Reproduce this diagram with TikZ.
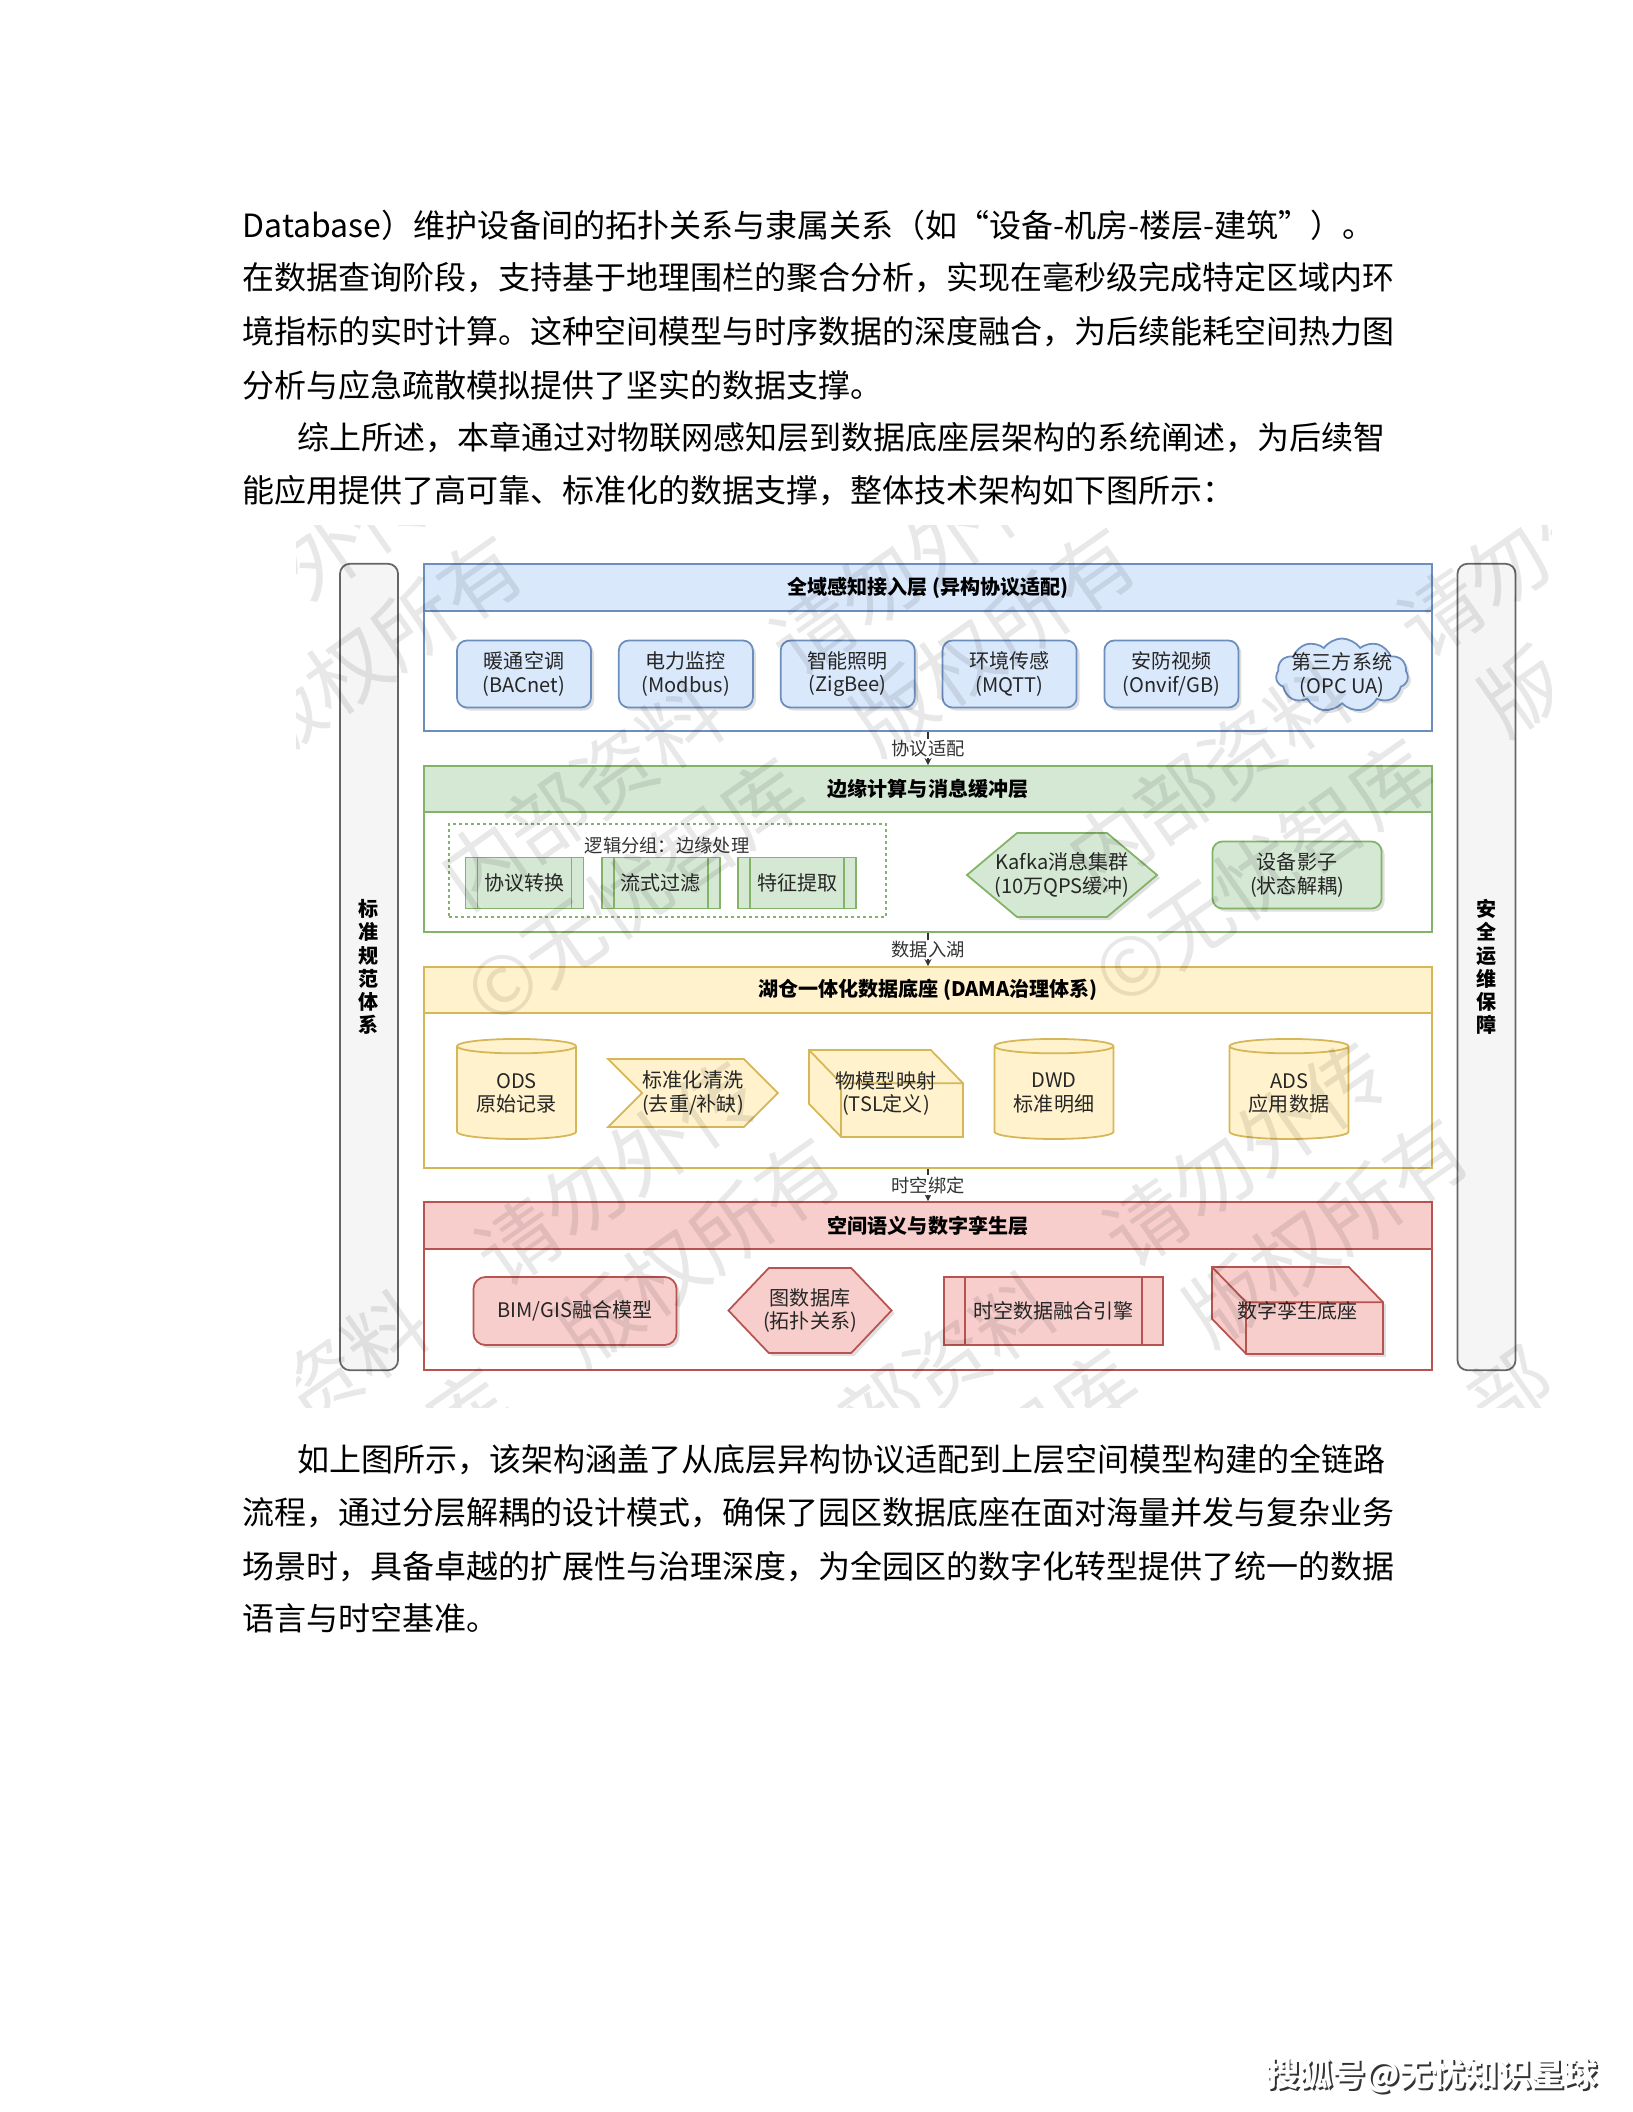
\documentclass[tikz,border=0pt]{standalone}
\usepackage{fontspec}
\setmainfont{Noto Sans CJK SC}
\definecolor{blfill}{HTML}{DAE8FC}
\definecolor{blline}{HTML}{6C8EBF}
\definecolor{grfill}{HTML}{D5E8D4}
\definecolor{grline}{HTML}{82B366}
\definecolor{ylfill}{HTML}{FFF2CC}
\definecolor{ylline}{HTML}{D6B656}
\definecolor{rdfill}{HTML}{F8CECC}
\definecolor{rdline}{HTML}{B85450}
\definecolor{sdfill}{HTML}{F5F5F5}
\definecolor{sdline}{HTML}{666666}
\usetikzlibrary{shapes.geometric, shapes.symbols, arrows.meta, positioning, shadows, backgrounds}

\begin{document}
\begin{tikzpicture}[x=0.01cm, y=-0.01cm,
    para/.style={anchor=west, inner sep=0pt, font=\fontsize{9.1pt}{12pt}\selectfont},
    layer/.style={rectangle, draw=#1, line width=0.5pt, minimum width=100.8mm, inner sep=0pt},
    hdr/.style={rectangle, draw=#1, line width=0.5pt, minimum width=100.8mm, anchor=north,
                inner sep=0pt, font=\fontsize{5.7pt}{6.4pt}\selectfont\bfseries},
    side/.style={rectangle, rounded corners=1mm, draw=sdline, fill=sdfill, line width=0.5pt,
                 minimum width=5.8mm, minimum height=80.6mm, align=center,
                 font=\fontsize{5.7pt}{6.6pt}\selectfont\bfseries},
    item/.style={align=center, inner sep=0pt, line width=0.5pt, text=black!85,
                 font=\fontsize{5.7pt}{6.6pt}\selectfont},
    shd/.style={drop shadow={shadow xshift=0.3mm, shadow yshift=-0.3mm, opacity=0.25}},
    dev/.style={item, shd, rectangle, rounded corners=1mm, fill=blfill, draw=blline,
                minimum width=13.4mm, minimum height=6.7mm},
    proc/.style n args={3}{item, rectangle, fill=#1, draw=#2,
                path picture={\draw[#2, line width=0.5pt]
                    ([xshift=#3]path picture bounding box.north west) -- ([xshift=#3]path picture bounding box.south west)
                    ([xshift=-#3]path picture bounding box.north east) -- ([xshift=-#3]path picture bounding box.south east);}},
    hexa/.style={item, shd, signal, signal to=east and west},
    cyl/.style={item, cylinder, shape border rotate=90, aspect=0.18, fill=ylfill, draw=ylline,
                minimum width=11.9mm, minimum height=10mm},
    grp/.style={rectangle, draw=grline, dash pattern=on 0.3mm off 0.3mm, line width=0.4pt},
    lbl/.style={fill=white, inner sep=0.4pt, text=black!80, font=\fontsize{5.2pt}{6pt}\selectfont},
    conn/.style={-{Stealth[length=0.7mm, width=0.7mm]}, line width=0.35pt, black!80},
    wmark/.style={anchor=west, rotate=35, inner sep=0pt, text=black, text opacity=0.09,
                  font=\fontsize{23pt}{23pt}\selectfont}
]
\useasboundingbox (0,0) rectangle (1632,2112);

\node[para] (p1) at (242,225) {Database）维护设备间的拓扑关系与隶属关系（如“设备-机房-楼层-建筑”）。};
\node[para] (p2) at (242,278) {在数据查询阶段，支持基于地理围栏的聚合分析，实现在毫秒级完成特定区域内环};
\node[para] (p3) at (242,331.5) {境指标的实时计算。这种空间模型与时序数据的深度融合，为后续能耗空间热力图};
\node[para] (p4) at (242,385) {分析与应急疏散模拟提供了坚实的数据支撑。};
\node[para] (p5) at (297,438) {综上所述，本章通过对物联网感知层到数据底座层架构的系统阐述，为后续智};
\node[para] (p6) at (242,491) {能应用提供了高可靠、标准化的数据支撑，整体技术架构如下图所示：};

\node[side] (std) at (369,967) {标\\准\\规\\范\\体\\系};
\node[side] (ops) at (1486.5,967) {安\\全\\运\\维\\保\\障};

\node[layer=blline, minimum height=16.7mm] (acc) at (928,647.5) {};
\node[hdr=blline, fill=blfill, minimum height=4.7mm] (acch) at (acc.north) {全域感知接入层 (异构协议适配)};
\node[dev] (hvac) at (524,674) {暖通空调\\(BACnet)};
\node[dev, right=2.6mm of hvac] (power) {电力监控\\(Modbus)};
\node[dev, right=2.6mm of power] (lamp) {智能照明\\(ZigBee)};
\node[dev, right=2.6mm of lamp] (envs) {环境传感\\(MQTT)};
\node[dev, right=2.6mm of envs] (cctv) {安防视频\\(Onvif/GB)};
\node[item, shd, cloud, cloud puffs=11, cloud puff arc=110, aspect=1.8, fill=blfill, draw=blline,
      minimum width=13.2mm, minimum height=7.3mm] (opc) at (1342,675) {};
\node[item] (opct) at (opc) {第三方系统\\(OPC UA)};

\node[layer=grline, minimum height=16.6mm] (edge) at (928,849) {};
\node[hdr=grline, fill=grfill, minimum height=4.6mm] (edgeh) at (edge.north) {边缘计算与消息缓冲层};
\node[grp, minimum width=43.7mm, minimum height=9.3mm] (grp) at (667.5,870.5) {};
\node[lbl, fill=none] (grpl) at (667,846) {逻辑分组：边缘处理};
\node[proc={grfill}{grline}{1.2mm}, minimum width=11.8mm, minimum height=5.1mm] (conv) at (524.5,883) {协议转换};
\node[proc={grfill}{grline}{1.2mm}, minimum width=11.8mm, minimum height=5.1mm, right=1.65mm of conv] (flt) {流式过滤};
\node[proc={grfill}{grline}{1.2mm}, minimum width=11.8mm, minimum height=5.1mm, right=1.65mm of flt] (feat) {特征提取};
\node[hexa, signal pointer angle=80, fill=grfill, draw=grline, minimum width=19mm, minimum height=8.4mm]
    (kafka) at (1062,875) {};
\node[item] (kafkat) at (kafka) {Kafka消息集群\\(10万QPS缓冲)};
\node[item, shd, rectangle, rounded corners=1mm, fill=grfill, draw=grline, minimum width=16.9mm, minimum height=6.7mm]
    (shadow) at (1297,875) {设备影子\\(状态解耦)};

\node[layer=ylline, minimum height=20.1mm] (lake) at (928,1067.5) {};
\node[hdr=ylline, fill=ylfill, minimum height=4.6mm] (lakeh) at (lake.north) {湖仓一体化数据底座 (DAMA治理体系)};
\node[cyl] (ods) at (516.5,1093) {ODS\\原始记录};
\node[item, signal, signal from=west, signal to=east, signal pointer angle=90, fill=ylfill, draw=ylline,
      minimum width=16.8mm, minimum height=6.8mm] (clean) at (693,1093) {标准化清洗\\(去重/补缺)};
\node[item, minimum width=15.2mm, minimum height=8.5mm] (tsl) at (886,1093.5) {物模型映射\\(TSL定义)};
\node[cyl] (dwd) at (1054,1093) {DWD\\标准明细};
\node[cyl] (ads) at (1289,1093) {ADS\\应用数据};

\node[layer=rdline, minimum height=16.8mm] (twin) at (928,1286) {};
\node[hdr=rdline, fill=rdfill, minimum height=4.7mm] (twinh) at (twin.north) {空间语义与数字孪生层};
\node[item, shd, rectangle, rounded corners=1.2mm, fill=rdfill, draw=rdline, minimum width=20.3mm, minimum height=6.8mm]
    (bim) at (575,1311) {BIM/GIS融合模型};
\node[hexa, signal pointer angle=93, fill=rdfill, draw=rdline, minimum width=16.3mm, minimum height=8.5mm]
    (gdb) at (810,1310.5) {};
\node[item] (gdbt) at (gdb) {图数据库\\(拓扑关系)};
\node[proc={rdfill}{rdline}{2.1mm}, minimum width=21.9mm, minimum height=6.8mm] (fuse) at (1053.5,1311) {时空数据融合引擎};
\node[item, minimum width=16.9mm, minimum height=8.5mm] (base) at (1297.5,1310.5) {数字孪生底座};

\begin{scope}[on background layer]
\draw[fill=ylfill, draw=ylline, line width=0.5pt] (tsl.north west) -- ([xshift=-3.2mm]tsl.north east)
    -- ([yshift=-3.3mm]tsl.north east) -- (tsl.south east) -- ([xshift=3.2mm]tsl.south west)
    -- ([yshift=3.3mm]tsl.south west) -- cycle;
\draw[draw=ylline, line width=0.5pt] (tsl.north west) -- ([xshift=3.2mm, yshift=-3.3mm]tsl.north west)
    -- ([yshift=-3.3mm]tsl.north east) ([xshift=3.2mm, yshift=-3.3mm]tsl.north west) -- ([xshift=3.2mm]tsl.south west);
\draw[fill=rdfill, draw=rdline, line width=0.5pt, shd] (base.north west) -- ([xshift=-3.4mm]base.north east)
    -- ([yshift=-3.5mm]base.north east) -- (base.south east) -- ([xshift=3.4mm]base.south west)
    -- ([yshift=3.5mm]base.south west) -- cycle;
\draw[draw=rdline, line width=0.5pt] (base.north west) -- ([xshift=3.4mm, yshift=-3.5mm]base.north west)
    -- ([yshift=-3.5mm]base.north east) ([xshift=3.4mm, yshift=-3.5mm]base.north west) -- ([xshift=3.4mm]base.south west);
\end{scope}

\draw[conn] (acc) -- (edge) node[lbl, midway] {协议适配};
\draw[conn] (edge) -- (lake) node[lbl, midway] {数据入湖};
\draw[conn] (lake) -- (twin) node[lbl, midway] {时空绑定};

\node[para] (q1) at (297,1460) {如上图所示，该架构涵盖了从底层异构协议适配到上层空间模型构建的全链路};
\node[para] (q2) at (242,1513) {流程，通过分层解耦的设计模式，确保了园区数据底座在面对海量并发与复杂业务};
\node[para] (q3) at (242,1567) {场景时，具备卓越的扩展性与治理深度，为全园区的数字化转型提供了统一的数据};
\node[para] (q4) at (242,1618) {语言与时空基准。};

\begin{scope}
\clip (296,525) rectangle (1551,1407);
\foreach \wx/\wy/\wt in {289/578/外传, 248/741/版权所有, 448/888/内部资料　请勿外传, 474/1004/©无忧智库　版权所有,
        1076/869/内部资料　请勿外, 1102/985/©无忧智库　版, 153/1498/内部资料　请勿外传, 179/1614/©无忧智库　版权所有,
        781/1479/内部资料　请勿外传, 807/1595/©无忧智库　版权所有, 1476/1414/部}
    \node[wmark] at (\wx,\wy) {\wt};
\end{scope}

\node[text=black!80, font=\fontsize{9.4pt}{10pt}\selectfont\bfseries] (markb) at (1434,2077) {搜狐号@无忧知识星球};
\node[text=white, font=\fontsize{9.4pt}{10pt}\selectfont\bfseries] (mark) at (1432,2075) {搜狐号@无忧知识星球};
\end{tikzpicture}
\end{document}
